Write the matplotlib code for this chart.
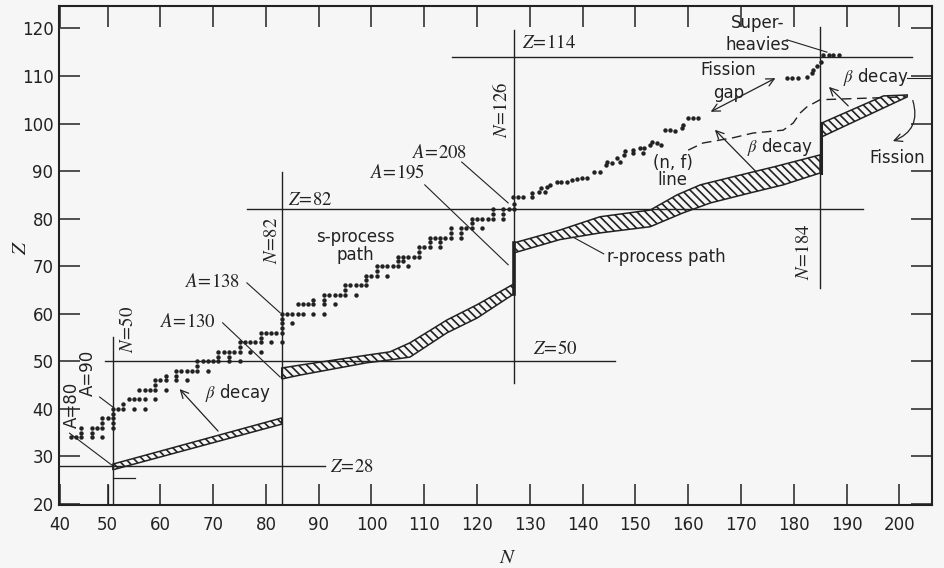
import numpy as np
import matplotlib
matplotlib.use('Agg')
import matplotlib.pyplot as plt

plt.rcParams['font.family'] = ['DejaVu Sans']
plt.rcParams['mathtext.fontset'] = 'stix'
plt.rcParams['hatch.linewidth'] = 1.2
plt.rcParams['hatch.color'] = '#222222'

ink = '#222222'
paper = '#f6f6f6'

# nuclei along the s-process path: Z -> mass numbers (p-nuclei not drawn)
s_path = {
    34: [76, 77, 78, 80, 82], 35: [79, 81], 36: [80, 82, 83, 84, 86],
    37: [85, 87], 38: [86, 87, 88], 39: [89], 40: [90, 91, 92, 94, 96],
    41: [93], 42: [95, 96, 97, 98, 100], 44: [99, 100, 101, 102, 104],
    45: [103], 46: [104, 105, 106, 108, 110], 47: [107, 109],
    48: [110, 111, 112, 113, 114, 116], 49: [115],
    50: [116, 117, 118, 119, 120, 122, 124], 51: [121, 123],
    52: [122, 123, 124, 125, 126, 128, 130], 53: [127],
    54: [128, 129, 130, 131, 132, 134, 136], 55: [133],
    56: [134, 135, 136, 137, 138], 57: [139], 58: [140, 142], 59: [141],
    60: [142, 143, 144, 145, 146, 148, 150], 62: [147, 148, 149, 150, 152, 154],
    63: [151, 153], 64: [154, 155, 156, 157, 158, 160], 65: [159],
    66: [160, 161, 162, 163, 164], 67: [165], 68: [166, 167, 168, 170],
    69: [169], 70: [170, 171, 172, 173, 174, 176], 71: [175, 176],
    72: [176, 177, 178, 179, 180], 73: [181], 74: [182, 183, 184, 186],
    75: [185, 187], 76: [186, 187, 188, 189, 190, 192], 77: [191, 193],
    78: [192, 194, 195, 196, 198], 79: [197], 80: [198, 199, 200, 201, 202, 204],
    81: [203, 205], 82: [204, 206, 207, 208], 83: [209],
}
s_n = [a - z for z, masses in s_path.items() for a in masses]
s_z = [z for z, masses in s_path.items() for a in masses]

# heavy nuclei past N=126
heavy_n = [125.9, 126.8, 127.8, 129.4, 129.4, 130.8, 131.9, 131.1, 132.2, 132.8,
           134.1, 135.0, 136.0, 136.9, 137.9, 138.8, 139.9, 141.2, 142.3, 143.4,
           143.6, 144.5, 145.5, 146.1, 146.9, 147.0, 148.6, 148.6, 149.8, 150.5,
           150.6, 151.8, 152.1, 153.1, 153.8, 154.6, 155.6, 156.5, 157.8, 158.1,
           159.0, 160.0, 160.9, 177.7, 178.6, 179.9, 181.5, 182.4, 182.7, 183.4,
           184.1, 184.6, 185.6, 186.5, 187.5]
heavy_z = [84.6, 84.6, 84.6, 84.6, 85.3, 85.7, 85.7, 86.4, 86.7, 87.1,
           87.6, 87.6, 87.6, 88.1, 88.3, 88.5, 88.5, 89.9, 89.9, 91.3,
           92.0, 91.6, 92.7, 92.0, 93.4, 94.3, 93.7, 94.4, 94.8, 93.7,
           94.8, 95.5, 96.2, 95.9, 95.5, 98.6, 98.6, 98.5, 99.0, 99.7,
           101.1, 101.1, 101.1, 109.5, 109.5, 109.5, 109.7, 110.6, 111.3, 112.1,
           113.0, 114.4, 114.4, 114.4, 114.4]

# r-process path band: (N, Z) of upper and lower edges for each piece
r_bands = [
    ([50, 82], [28.4, 38.1], [50, 82], [27.2, 36.8]),
    ([82, 85.4, 98.1, 102.5, 106.3, 113.3, 119.0, 126],
     [48.6, 49.2, 51.3, 52.0, 53.9, 58.7, 61.9, 66.3],
     [82, 85.4, 98.1, 102.5, 106.3, 113.3, 119.0, 126],
     [46.3, 47.1, 49.7, 50.3, 50.9, 56.0, 59.1, 64.2]),
    ([126, 134.7, 142.3, 151.8, 156.9, 161.3, 167.5, 175.3, 184],
     [74.9, 77.6, 80.4, 81.8, 85.0, 87.1, 88.8, 90.9, 93.4],
     [126, 134.7, 142.3, 151.8, 158.0, 163.2, 170.7, 177.0, 184],
     [72.8, 75.6, 77.0, 78.3, 81.2, 83.3, 85.4, 87.1, 89.6]),
    ([184.3, 196, 200.5], [100.1, 105.8, 106.0], [184.3, 200.5], [97.2, 105.6]),
]

# dashed beta-decay curve from the (n, f) line
dash_n = [159.0, 161.8, 167.5, 171.3, 177.0, 178.9, 180.2, 181.5, 184.0, 200.1]
dash_z = [94.4, 95.9, 97.0, 98.0, 98.6, 100.1, 102.2, 103.5, 105.0, 105.6]

# magic-number lines and their extents
magic_n = [50, 82, 126, 184]
magic_n_span = [(19.8, 55.1), (19.8, 89.8), (45.5, 119.7), (65.5, 120.3)]
magic_z = [28, 50, 82, 114]
magic_z_span = [(39.8, 90.2), (48.5, 145.1), (75.4, 192.2), (114.3, 201.4)]

x_ticks = [40, 49, 59, 69, 79, 89, 99, 109, 119, 129, 139, 149, 159, 169, 179, 189, 199]
x_labels = [str(v) for v in range(40, 201, 10)]
y_ticks = list(range(20, 121, 10))

fig = plt.figure(figsize=(9.44, 5.68), dpi=100, facecolor=paper)
ax = fig.add_axes([0.0625, 0.1109, 0.9248, 0.8785], facecolor=paper)

for n, (z0, z1) in zip(magic_n, magic_n_span):
    ax.plot([n, n], [z0, z1], color=ink, lw=1.0)
for z, (n0, n1) in zip(magic_z, magic_z_span):
    ax.plot([n0, n1], [z, z], color=ink, lw=1.0)
ax.plot([50, 54.2], [25.5, 25.5], color=ink, lw=0.9)
ax.plot([49.05, 49.05], [19.8, 24.1], color=ink, lw=0.9)
# the band runs up the N=126 and N=184 lines
ax.plot([126, 126], [64.2, 74.9], color=ink, lw=2.6)
ax.plot([184.2, 184.2], [89.6, 100.1], color=ink, lw=2.2)

for hn, hz, ln, lz in r_bands:
    px = list(hn) + list(ln[::-1])
    py = list(hz) + list(lz[::-1])
    ax.fill(px, py, facecolor=paper, edgecolor=ink, hatch='\\\\\\\\', lw=1.1)

ax.plot(s_n, s_z, 'o', ms=3.2, color=ink, mec='none')
ax.plot(heavy_n, heavy_z, 'o', ms=3.2, color=ink, mec='none')

ax.plot(dash_n, dash_z, color=ink, lw=1.0, ls=(0, (7, 4)))

# leader lines
leaders = [((116.1, 91.9), (124.9, 83.3)), ((109.1, 87.1), (124.9, 70.3)),
           ((75.4, 66.5), (81.7, 60.2)), ((70.8, 58.1), (81.7, 46.7)),
           ((47.5, 42.5), (50, 40.4)), ((41.8, 34.9), (49.8, 28.2)),
           ((137.2, 76.1), (143.0, 72.6)), ((177.7, 117.6), (185.3, 115.0)),
           ((200.5, 109.6), (204.9, 109.6))]
for (a0, b0), (a1, b1) in leaders:
    ax.plot([a0, a1], [b0, b1], color=ink, lw=0.8)

arw = dict(arrowstyle='->', color=ink, lw=0.9, mutation_scale=14)
ax.annotate('', xy=(62.3, 44.6), xytext=(70.3, 34.9), arrowprops=arw)
ax.annotate('', xy=(163.7, 99.1), xytext=(172.1, 89.6), arrowprops=arw)
ax.annotate('', xy=(185.3, 108.1), xytext=(189.7, 103.3), arrowprops=arw)
ax.annotate('', xy=(176.0, 109.8), xytext=(162.8, 102.2),
            arrowprops=dict(arw, arrowstyle='<->'))
ax.annotate('', xy=(197.3, 96.1), xytext=(201.4, 105.4),
            arrowprops=dict(arw, connectionstyle='arc3,rad=-0.5'))

sans = dict(color=ink, fontsize=12)
ax.text(95.9, 76.1, 's-process', ha='center', va='center', **sans)
ax.text(95.9, 72.4, 'path', ha='center', va='center', **sans)
ax.text(143.6, 72.0, 'r-process path', ha='left', va='center', **sans)
ax.text(156.1, 91.7, '(n, f)', ha='center', va='center', **sans)
ax.text(156.1, 88.1, 'line', ha='center', va='center', **sans)
ax.text(170.2, 95.1, r'$\beta$ decay', ha='left', va='center', **sans)
ax.text(188.4, 109.8, r'$\beta$ decay', ha='left', va='center', **sans)
ax.text(67.4, 43.3, r'$\beta$ decay', ha='left', va='center', **sans)
ax.text(166.6, 111.3, 'Fission', ha='center', va='center', **sans)
ax.text(166.6, 106.4, 'gap', ha='center', va='center', **sans)
ax.text(172.1, 121.1, 'Super-', ha='center', va='center', **sans)
ax.text(172.1, 116.5, 'heavies', ha='center', va='center', **sans)
ax.text(193.3, 92.8, 'Fission', ha='left', va='center', **sans)
ax.text(45.3, 47.6, 'A=90', rotation=90, ha='center', va='center', **sans)
ax.text(42.2, 40.8, 'A=80', rotation=90, ha='center', va='center', **sans)

serif = dict(color=ink, fontsize=13.5)
for s, x, y in [(r'$Z\!=\!28$', 91.1, 28), (r'$Z\!=\!50$', 129.6, 52.6),
                (r'$Z\!=\!82$', 83.2, 84.0), (r'$Z\!=\!114$', 127.5, 117.0),
                (r'$A\!=\!208$', 106.7, 94.0), (r'$A\!=\!195$', 98.7, 89.6),
                (r'$A\!=\!138$', 63.6, 66.7), (r'$A\!=\!130$', 58.9, 58.3)]:
    ax.text(x, y, s, ha='left', va='center', **serif)
for s, x, y in [(r'$N\!=\!50$', 52.8, 56.6), (r'$N\!=\!82$', 80.1, 75.5),
                (r'$N\!=\!126$', 123.7, 102.9), (r'$N\!=\!184$', 180.8, 73.0)]:
    ax.text(x, y, s, rotation=90, ha='center', va='center', **serif)

ax.set_xlim(39.8, 205.2)
ax.set_ylim(19.8, 124.7)
ax.set_xticks(x_ticks)
ax.set_xticklabels(x_labels)
ax.set_yticks(y_ticks)
ax.tick_params(direction='in', length=15, width=1.1, top=True, right=True,
               labelsize=12, colors=ink)
ax.tick_params(axis='x', pad=8)
ax.tick_params(axis='y', pad=4)
for sp in ax.spines.values():
    sp.set_linewidth(1.5)
    sp.set_color(ink)

fig.text(20 / 944, 1 - 248 / 568, '$Z$', rotation=90, ha='center', va='center',
         fontsize=15, color=ink)
fig.text(508 / 944, 1 - 557 / 568, '$N$', ha='center', va='center',
         fontsize=15, color=ink)

fig.savefig('out.png', dpi=100, facecolor=paper)
